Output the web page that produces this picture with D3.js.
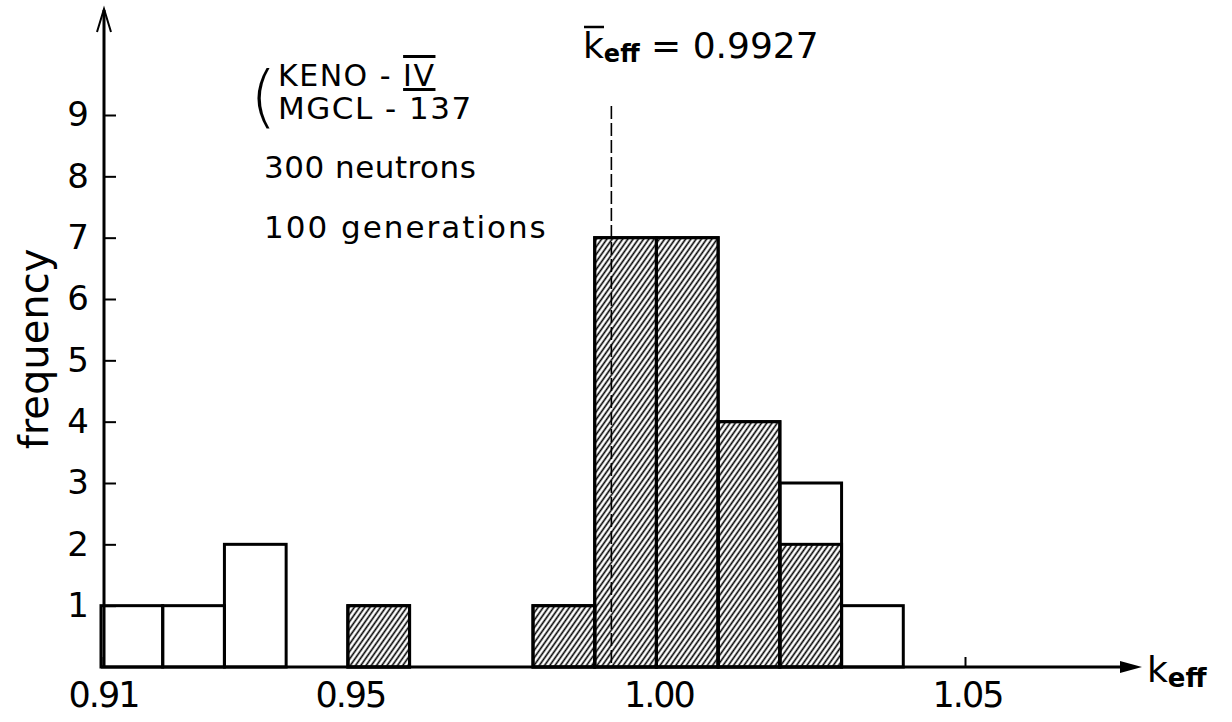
<!DOCTYPE html>
<html>
<head>
<meta charset="utf-8">
<script src="https://cdn.jsdelivr.net/npm/d3@7/dist/d3.min.js"></script>
<style>
  html, body { margin: 0; padding: 0; background: #fff; }
  svg { display: block; }
  text { font-family: "DejaVu Sans", "Liberation Sans", sans-serif; fill: #000; }
</style>
</head>
<body>
<svg id="chart" width="1232" height="722"></svg>
<script>
// Histogram of k_eff estimates (bin width 0.01)
const binLow        = [0.91, 0.92, 0.93, 0.95, 0.98, 0.99, 1.00, 1.01, 1.02, 1.03];
const totalCount    = [1, 1, 2, 1, 1, 7, 7, 4, 3, 1];
const hatchedCount  = [0, 0, 0, 1, 1, 7, 7, 4, 2, 0];
const binWidth = 0.01;
const meanKeff = 0.9927;

const xTicks = [0.91, 0.95, 1.00, 1.05];
const xTickLabels = ["0.91", "0.95", "1.00", "1.05"];
const yTicks = [1, 2, 3, 4, 5, 6, 7, 8, 9];

const notes = ["300 neutrons", "100 generations"];

const svg = d3.select("#chart");

const x = d3.scaleLinear().domain([0.91, 1.05]).range([101, 965]);
const y = d3.scaleLinear().domain([0, 9]).range([667, 115]);

// diagonal hatching
const defs = svg.append("defs");
const pat = defs.append("pattern")
  .attr("id", "hatch")
  .attr("patternUnits", "userSpaceOnUse")
  .attr("width", 4.3).attr("height", 10)
  .attr("patternTransform", "rotate(35)");
pat.append("line")
  .attr("x1", 2.15).attr("y1", 0).attr("x2", 2.15).attr("y2", 10)
  .attr("stroke", "#000").attr("stroke-width", 1.6);

const bins = binLow.map((b, i) => ({ lo: b, total: totalCount[i], hatched: hatchedCount[i] }));

// hatched part of each bin
svg.append("g").selectAll("rect")
  .data(bins.filter(d => d.hatched > 0))
  .join("rect")
  .attr("x", d => x(d.lo))
  .attr("width", d => x(d.lo + binWidth) - x(d.lo))
  .attr("y", d => y(d.hatched))
  .attr("height", d => y(0) - y(d.hatched))
  .attr("fill", "url(#hatch)")
  .attr("stroke", "#000")
  .attr("stroke-width", 3);

// outline of the full bin count
svg.append("g").selectAll("rect")
  .data(bins)
  .join("rect")
  .attr("x", d => x(d.lo))
  .attr("width", d => x(d.lo + binWidth) - x(d.lo))
  .attr("y", d => y(d.total))
  .attr("height", d => y(0) - y(d.total))
  .attr("fill", "none")
  .attr("stroke", "#000")
  .attr("stroke-width", 3);

// mean value marker
svg.append("line")
  .attr("x1", x(meanKeff)).attr("x2", x(meanKeff))
  .attr("y1", 106).attr("y2", y(0))
  .attr("stroke", "#000").attr("stroke-width", 1.6)
  .attr("stroke-dasharray", "13,4");

// y axis with ticks pointing inward
const yAxis = d3.axisLeft(y).tickValues(yTicks).tickSize(-12).tickPadding(15).tickFormat(d3.format("d"));
const gy = svg.append("g").attr("transform", "translate(104,0)").call(yAxis);
gy.select(".domain").remove();
gy.selectAll(".tick line").attr("stroke", "#000").attr("stroke-width", 2);
gy.selectAll(".tick text").style("font-size", "34px").attr("fill", "#000");

// x axis
const xAxis = d3.axisBottom(x).tickValues(xTicks).tickSize(-10).tickPadding(15)
  .tickFormat((d, i) => xTickLabels[i]);
const gx = svg.append("g").attr("transform", `translate(0,${y(0)})`).call(xAxis);
gx.select(".domain").remove();
gx.selectAll(".tick line").attr("stroke", "#000").attr("stroke-width", 2);
gx.selectAll(".tick text").style("font-size", "35px").attr("fill", "#000")
  .attr("dx", 2).style("letter-spacing", "-2px");

// axis lines with arrows
svg.append("line").attr("x1", 104).attr("y1", y(0)).attr("x2", 104).attr("y2", 10)
  .attr("stroke", "#000").attr("stroke-width", 3);
svg.append("path").attr("d", "M97,32 L104,9 L111,32")
  .attr("fill", "none").attr("stroke", "#000").attr("stroke-width", 2);

svg.append("line").attr("x1", 101).attr("y1", y(0)).attr("x2", 1126).attr("y2", y(0))
  .attr("stroke", "#000").attr("stroke-width", 3);
svg.append("path").attr("d", `M1120,${y(0) - 6} L1142,${y(0)} L1120,${y(0) + 6} Z`)
  .attr("fill", "#000");

// axis titles
const xt = svg.append("text").attr("x", 1147).attr("y", 682).style("font-size", "36px");
xt.append("tspan").text("k");
xt.append("tspan").attr("dy", 5).style("font-size", "26px").style("font-weight", "bold").text("eff");

svg.append("text")
  .attr("transform", "translate(48,349) rotate(-90)")
  .attr("text-anchor", "middle")
  .style("font-size", "40px")
  .text("frequency");

// mean label
const ml = svg.append("text").attr("x", 583).attr("y", 58).style("font-size", "36px");
ml.append("tspan").text("k");
ml.append("tspan").attr("dy", 4).style("font-size", "24px").style("font-weight", "bold").text("eff");
ml.append("tspan").attr("dy", -4).text(" = " + meanKeff.toFixed(4));
svg.append("line").attr("x1", 584).attr("x2", 604).attr("y1", 27).attr("y2", 27)
  .attr("stroke", "#000").attr("stroke-width", 2.5);

// code and library notes
svg.append("text").attr("x", 250).attr("y", 120).style("font-size", "68px").style("font-weight", "200").text("(");
const k1 = svg.append("text").attr("x", 278).attr("y", 86).style("font-size", "30px").style("letter-spacing", "1.5px");
k1.append("tspan").text("KENO - ");
k1.append("tspan").style("text-decoration", "overline underline").text("IV");
svg.append("text").attr("x", 278).attr("y", 119).style("font-size", "31px").style("letter-spacing", "1.5px").text("MGCL - 137");

svg.append("g").selectAll("text")
  .data(notes)
  .join("text")
  .attr("x", 264)
  .attr("y", (d, i) => [178, 238][i])
  .style("font-size", "31px")
  .style("letter-spacing", (d, i) => ["0.5px", "2px"][i])
  .text(d => d);
</script>
</body>
</html>
